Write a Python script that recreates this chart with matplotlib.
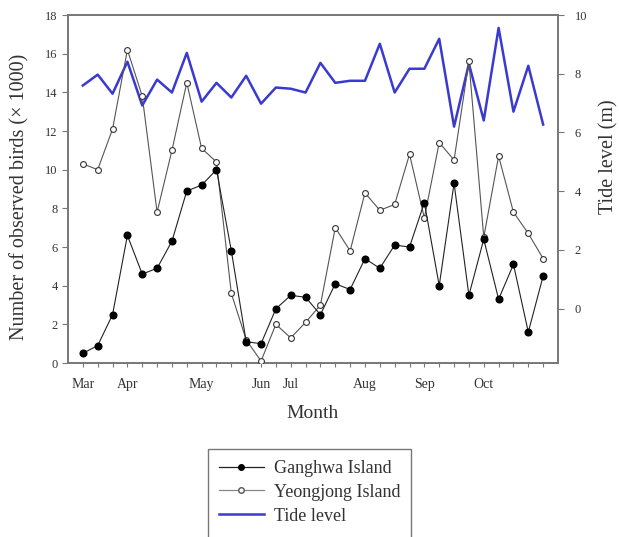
import matplotlib
matplotlib.use("Agg")
import matplotlib.pyplot as plt
from matplotlib.lines import Line2D
import numpy as np

plt.rcParams['font.family'] = ['Liberation Serif', 'DejaVu Serif']

month_labels = ["Mar", "Apr", "May", "Jun", "Jul", "Aug", "Sep", "Oct"]
month_positions = [0, 3, 8, 12, 14, 19, 23, 27]

ganghwa = [0.5, 0.9, 2.5, 6.6, 4.6, 4.9, 6.3, 8.9, 9.2, 10.0, 5.8, 1.1, 1.0, 2.8,
           3.5, 3.4, 2.5, 4.1, 3.8, 5.4, 4.9, 6.1, 6.0, 8.3, 4.0, 9.3, 3.5, 6.4,
           3.3, 5.1, 1.6, 4.5]
yeongjong = [10.3, 10.0, 12.1, 16.2, 13.8, 7.8, 11.0, 14.5, 11.1, 10.4, 3.6, 1.2,
             0.1, 2.0, 1.3, 2.1, 3.0, 7.0, 5.8, 8.8, 7.9, 8.2, 10.8, 7.5, 11.4,
             10.5, 15.6, 6.5, 10.7, 7.8, 6.7, 5.4]
tide = [7.6, 7.97, 7.32, 8.41, 6.92, 7.8, 7.36, 8.71, 7.05, 7.69, 7.19, 7.93,
        6.98, 7.53, 7.49, 7.36, 8.37, 7.69, 7.76, 7.76, 9.02, 7.36, 8.17, 8.17,
        9.19, 6.2, 8.34, 6.41, 9.56, 6.71, 8.27, 6.27]

x = np.arange(len(ganghwa))
tick_labels = [""] * len(x)
for p, m in zip(month_positions, month_labels):
    tick_labels[p] = m

fig = plt.figure(figsize=(6.19, 5.37), dpi=100)
ax = fig.add_axes([68/619, 1-363/537, (558-68)/619, (363-15)/537])
ax2 = ax.twinx()

spine_col = "#777777"
txt_col = "#333333"
ax2.plot(x, tide, color="#3a3ad0", lw=1.8, zorder=1)
ax.plot(x, yeongjong, color="#555555", lw=0.8, marker="o", ms=4.2,
        mfc="white", mec="#333333", mew=0.8, zorder=3)
ax.plot(x, ganghwa, color="#222222", lw=0.8, marker="o", ms=4.8,
        mfc="black", mec="black", zorder=4)
ax.set_zorder(ax2.get_zorder() + 1)
ax.patch.set_visible(False)

ax.set_xlim(-1, 32)
ax.set_ylim(0, 18)
ax.set_yticks(np.arange(0, 19, 2))
ax2.set_ylim(-1.85, 10)
ax2.set_yticks(np.arange(0, 11, 2))

ax.set_xticks(x)
ax.set_xticklabels(tick_labels)
ax.tick_params(axis="x", direction="out", length=3, color=spine_col, pad=8,
               labelsize=10, labelcolor=txt_col)
ax.tick_params(axis="y", direction="out", length=4, color=spine_col, labelsize=9, labelcolor=txt_col)
ax2.tick_params(axis="y", direction="out", length=4, color=spine_col, labelsize=9, labelcolor=txt_col, pad=8)

for a in (ax, ax2):
    for s in a.spines.values():
        s.set_color(spine_col)
        s.set_linewidth(1.2)

fig.text(313/619, 1-413/537, "Month", fontsize=14, color=txt_col, ha="center", va="center")
fig.text(20/619, 1-197/537, "Number of observed birds (× 1000)", fontsize=14.5,
         color=txt_col, ha="center", va="center", rotation=90)
fig.text(609/619, 1-157/537, "Tide level (m)", fontsize=14.5,
         color=txt_col, ha="center", va="center", rotation=90)

handles = [
    Line2D([], [], color="#222222", lw=0.9, marker="o", ms=4, mfc="black", mec="black"),
    Line2D([], [], color="#888888", lw=0.9, marker="o", ms=4, mfc="white", mec="#555555"),
    Line2D([], [], color="#3a3ad0", lw=1.8),
    Line2D([], [], color="none"),
]
labels = ["Ganghwa Island", "Yeongjong Island", "Tide level", " "]
leg = fig.legend(handles, labels, loc="upper left",
                 bbox_to_anchor=(208/619, 1-449/537), fontsize=13,
                 frameon=True, fancybox=False, edgecolor="#555555",
                 handlelength=2.5, handletextpad=0.55, borderpad=0.6,
                 labelspacing=0.38, borderaxespad=0)
leg.get_frame().set_linewidth(1.0)
for t in leg.get_texts():
    t.set_color(txt_col)

fig.savefig("out.png", dpi=100)
